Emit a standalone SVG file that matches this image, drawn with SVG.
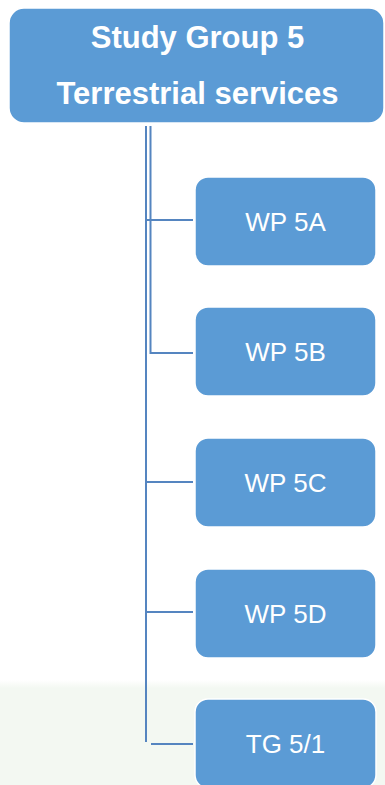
<svg xmlns="http://www.w3.org/2000/svg" width="385" height="785" viewBox="0 0 385 785">
<defs>
<linearGradient id="bg" x1="0" y1="0" x2="0" y2="1">
<stop offset="0" stop-color="#ffffff"/>
<stop offset="1" stop-color="#f3f8f2"/>
</linearGradient>
</defs>
<style>
.box{fill:#5b9bd5;stroke:#ffffff;stroke-width:1.5}
.lbl{font-family:"Liberation Sans",Arial,sans-serif;font-size:26px;fill:#ffffff;text-anchor:middle}
.ttl{font-family:"Liberation Sans",Arial,sans-serif;font-size:31px;font-weight:bold;fill:#ffffff;text-anchor:middle}
.ln{stroke:#5585c0;stroke-width:2;fill:none}
</style>
<rect x="0" y="0" width="385" height="785" fill="#ffffff"/>
<rect x="0" y="680" width="385" height="8" fill="url(#bg)"/>
<rect x="0" y="688" width="385" height="97" fill="#f3f8f2"/>
<g id="connectors">
<path class="ln" d="M146 126 V742"/>
<path class="ln" d="M150.5 126 V353 H193"/>
<path class="ln" d="M146 220 H193"/>
<path class="ln" d="M146 482 H193"/>
<path class="ln" d="M146 612 H193"/>
<path class="ln" d="M151 744 H193"/>
</g>
<g id="sg5">
<rect class="box" x="9" y="8" width="375" height="115" rx="15"/>
<text class="ttl" x="197.5" y="48">Study Group 5</text>
<text class="ttl" x="197.5" y="104">Terrestrial services</text>
</g>
<g id="wp5a">
<rect class="box" x="195" y="177" width="181" height="89" rx="13"/>
<text class="lbl" x="285.5" y="231">WP 5A</text>
</g>
<g id="wp5b">
<rect class="box" x="195" y="307" width="181" height="89" rx="13"/>
<text class="lbl" x="285.5" y="361">WP 5B</text>
</g>
<g id="wp5c">
<rect class="box" x="195" y="438" width="181" height="89" rx="13"/>
<text class="lbl" x="285.5" y="492">WP 5C</text>
</g>
<g id="wp5d">
<rect class="box" x="195" y="569" width="181" height="89" rx="13"/>
<text class="lbl" x="285.5" y="623">WP 5D</text>
</g>
<g id="tg51">
<rect class="box" x="195" y="699" width="181" height="89" rx="13"/>
<text class="lbl" x="285.5" y="753">TG 5/1</text>
</g>
</svg>
